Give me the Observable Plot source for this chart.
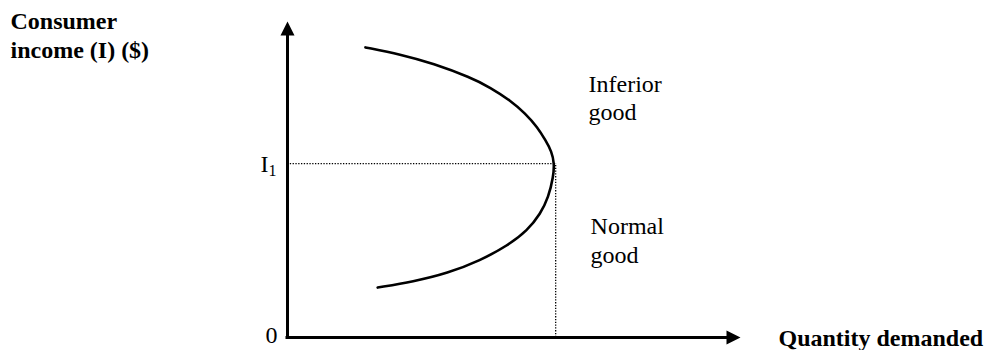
<!DOCTYPE html>
<html>
<head>
<meta charset="utf-8">
<script src="https://cdn.jsdelivr.net/npm/d3@7"></script>
<script src="https://cdn.jsdelivr.net/npm/@observablehq/plot@0.6"></script>
<style>
  html, body { margin: 0; padding: 0; background: #fff; }
</style>
</head>
<body>
<div id="chart"></div>
<script>
// Engel curve (quantity demanded vs consumer income)
const quantity = [1.72, 2.49, 3.22, 4.04, 4.48, 4.92, 5.25, 5.52, 5.70, 5.83, 5.89, 5.87, 5.76, 5.585, 5.30, 4.86, 4.26, 3.53, 2.78, 1.99];
const income   = [9.18, 8.96, 8.67, 8.23, 7.91, 7.50, 7.09, 6.65, 6.23, 5.89, 5.51, 5.10, 4.43, 3.92, 3.39, 2.91, 2.44, 2.03, 1.77, 1.58];
const I1 = 5.5;   // income level where the good turns inferior
const Q1 = 5.92;  // quantity at I1
const axisMax = 10;

const curve = quantity.map((q, i) => ({q, i: income[i]}));

// annotation texts with their anchor in data space
const annotations = [
  {text: "Inferior\ngood", q: 6.645, i: 6.87},
  {text: "Normal\ngood", q: 6.69, i: 2.37}
];
const yLabel = {text: "Consumer\nincome (I) ($)", q: -6.115, i: 8.86};
const xLabel = {text: "Quantity demanded", q: axisMax, i: 0};

const arrowHead = {
  draw(ctx) {
    ctx.moveTo(0, 0);
    ctx.lineTo(7, 14);
    ctx.lineTo(-7, 14);
    ctx.closePath();
  }
};

const font = "'Liberation Serif', 'Times New Roman', serif";

const chart = Plot.plot({
  width: 993,
  height: 350,
  marginLeft: 287,
  marginRight: 253,
  marginTop: 21,
  marginBottom: 13,
  x: {domain: [0, axisMax], axis: null},
  y: {domain: [0, axisMax], axis: null},
  style: {background: "white", overflow: "visible"},
  marks: [
    // dotted guides
    Plot.ruleY([I1], {x1: 0, x2: Q1, stroke: "black", strokeWidth: 1.3, strokeDasharray: "1.3,1.5"}),
    Plot.ruleX([Q1], {y1: 0, y2: I1, stroke: "black", strokeWidth: 1.3, strokeDasharray: "1.3,1.5"}),
    // axes
    Plot.ruleX([0], {y1: 0, y2: axisMax - 0.4, stroke: "black", strokeWidth: 3, strokeLinecap: "square"}),
    Plot.ruleY([0], {x1: 0, x2: axisMax - 0.3, stroke: "black", strokeWidth: 3, strokeLinecap: "square"}),
    Plot.dot([{q: 0, i: axisMax}], {x: "q", y: "i", symbol: arrowHead, fill: "black", stroke: "none"}),
    Plot.dot([{q: axisMax, i: 0}], {x: "q", y: "i", symbol: arrowHead, rotate: 90, fill: "black", stroke: "none"}),
    // curve
    Plot.line(curve, {x: "q", y: "i", curve: "basis", stroke: "black", strokeWidth: 2.6}),
    // tick-like labels
    Plot.text([{t: "0"}], {x: () => 0, y: () => 0, text: "t", textAnchor: "end", lineAnchor: "bottom", dx: -10, dy: 5, fontSize: 24, fontFamily: font, fill: "black"}),
    Plot.text([{t: "I"}], {x: () => 0, y: () => I1, text: "t", textAnchor: "end", lineAnchor: "bottom", dx: -19, dy: 8, fontSize: 24, fontFamily: font, fill: "black"}),
    Plot.text([{t: "1"}], {x: () => 0, y: () => I1, text: "t", textAnchor: "start", lineAnchor: "bottom", dx: -19, dy: 12, fontSize: 16, fontFamily: font, fill: "black"}),
    // annotations
    Plot.text(annotations, {x: "q", y: "i", text: "text", textAnchor: "start", lineAnchor: "bottom", lineHeight: 1.2, fontSize: 24, fontFamily: font, fill: "black"}),
    Plot.text([yLabel], {x: "q", y: "i", text: "text", textAnchor: "start", lineAnchor: "bottom", lineHeight: 1.2, fontSize: 24, fontWeight: "bold", fontFamily: font, fill: "black"}),
    Plot.text([xLabel], {x: "q", y: "i", text: "text", textAnchor: "start", lineAnchor: "bottom", dx: 38, dy: 8, fontSize: 24, fontWeight: "bold", fontFamily: font, fill: "black"})
  ]
});

document.getElementById("chart").appendChild(chart);
</script>
</body>
</html>
